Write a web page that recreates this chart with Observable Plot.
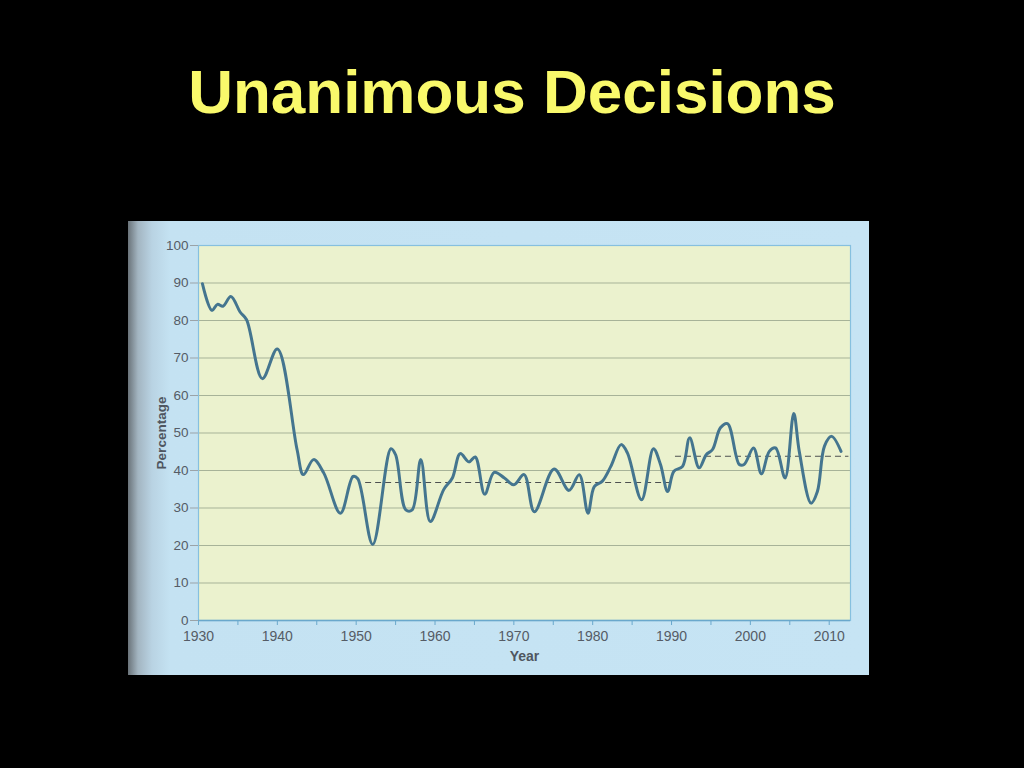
<!DOCTYPE html>
<html>
<head>
<meta charset="utf-8">
<script src="https://cdn.jsdelivr.net/npm/d3@7"></script>
<script src="https://cdn.jsdelivr.net/npm/@observablehq/plot@0.6"></script>
<style>
  html, body { margin: 0; padding: 0; background: #000; width: 1024px; height: 768px; overflow: hidden; }
  #title { position: absolute; left: 0; width: 1024px; top: 55px; text-align: center;
           font-family: "Liberation Sans", Arial, sans-serif; font-weight: bold; font-size: 62px;
           color: #f9f96b; line-height: 74px; }
  #panel { position: absolute; left: 128px; top: 221px; width: 741px; height: 454px;
           background: linear-gradient(to right, #6a7379 0px, #a3b5c1 10px, #b9d3e3 24px, #c4e2f2 42px, #c6e4f4 100%); }
  #panel svg { background: transparent; display: block; }
  #panel svg g[aria-label="x-axis label"] text,
  #panel svg g[aria-label="y-axis label"] text { font-weight: bold; fill: #4f5660; }
</style>
</head>
<body>
<div id="title">Unanimous Decisions</div>
<div id="panel"></div>
<script>
// Percentage of unanimous decisions (turning points of the curve)
const years = [1930.5, 1931.7, 1932.4, 1933.1, 1934.1, 1935.3, 1936.1, 1938.1, 1940.0, 1942.5,
  1943.3, 1944.6, 1945.9, 1948.0, 1949.6, 1950.2, 1952.1, 1954.4, 1955.0, 1956.3,
  1957.1, 1958.2, 1959.4, 1961.1, 1962.2, 1963.2, 1964.3, 1965.1, 1966.3, 1967.5,
  1968.8, 1970.0, 1971.3, 1972.6, 1975.1, 1977.0, 1978.3, 1979.4, 1980.2, 1981.2,
  1982.3, 1983.6, 1984.4, 1986.2, 1987.7, 1988.6, 1989.5, 1990.3, 1991.4, 1992.3,
  1993.5, 1994.4, 1995.2, 1996.2, 1997.1, 1998.6, 1999.2, 2000.4, 2001.4, 2002.4,
  2003.2, 2004.4, 2005.5, 2006.2, 2007.7, 2008.5, 2009.4, 2010.3, 2011.5];
const percentages = [89.8, 82.7, 84.3, 83.8, 86.4, 82.2, 80.2, 64.5, 72.4, 45.6,
  38.9, 42.9, 39.3, 28.6, 38.4, 37.8, 20.3, 45.8, 44.2, 29.5,
  29.5, 42.9, 26.4, 34.9, 38.0, 44.5, 42.3, 43.6, 33.7, 39.5,
  38.0, 36.2, 38.9, 29.0, 40.4, 34.7, 38.9, 28.6, 35.7, 37.1,
  41.1, 46.9, 44.7, 32.2, 45.8, 41.6, 34.4, 39.8, 41.1, 48.7,
  40.7, 44.2, 45.6, 51.4, 52.5, 41.6, 41.6, 46.0, 39.1, 45.1,
  46.0, 38.0, 55.2, 45.1, 31.3, 34.4, 46.5, 49.1, 45.1];

// Period averages (dashed reference lines)
const avgStart = [1951.2, 1990.5];
const avgEnd = [1990.3, 2012.5];
const avgValue = [36.8, 43.8];

const xTicks = d3.range(1930, 2011, 5);
const yTicks = d3.range(0, 101, 10);

const series = years.map((y, i) => ({year: y, pct: percentages[i]}));
const averages = avgStart.map((s, i) => ({x1: s, x2: avgEnd[i], y: avgValue[i]}));

const chart = Plot.plot({
  width: 741,
  height: 454,
  marginLeft: 70,
  marginRight: 19,
  marginTop: 24,
  marginBottom: 55,
  style: {fontFamily: "'Liberation Sans', Arial, sans-serif", fontSize: "14px", color: "#555c66", background: "transparent"},
  x: {domain: [1930, 2012.7]},
  y: {domain: [0, 100]},
  marks: [
    Plot.frame({fill: "#ebf2ce", stroke: null}),
    Plot.gridY(yTicks, {stroke: "#a7b398", strokeOpacity: 1, strokeWidth: 1}),
    Plot.frame({stroke: "#86c0df", strokeWidth: 1.2}),
    Plot.axisY({ticks: yTicks, tickSize: 8, tickPadding: 2, stroke: "#9aa3a8", label: "Percentage",
      labelAnchor: "center", labelArrow: "none", labelOffset: 42, fill: "#555c66", fontSize: 13.5}),
    Plot.axisX({ticks: xTicks, tickSize: 5, tickPadding: 6, stroke: "#6aa8cc",
      tickFormat: d => d % 10 === 0 ? String(d) : "", label: "Year", labelAnchor: "center",
      labelArrow: "none", labelOffset: 40, fill: "#555c66", fontSize: 14}),
    Plot.ruleY([0], {stroke: "#6aa8cc", strokeWidth: 1.5}),
    Plot.ruleY(averages, {x1: "x1", x2: "x2", y: "y", stroke: "#4d5050", strokeWidth: 1, strokeDasharray: "6,4"}),
    Plot.line(series, {x: "year", y: "pct", curve: "catmull-rom", stroke: "#44758f", strokeWidth: 3})
  ]
});
document.getElementById("panel").appendChild(chart);
</script>
</body>
</html>
